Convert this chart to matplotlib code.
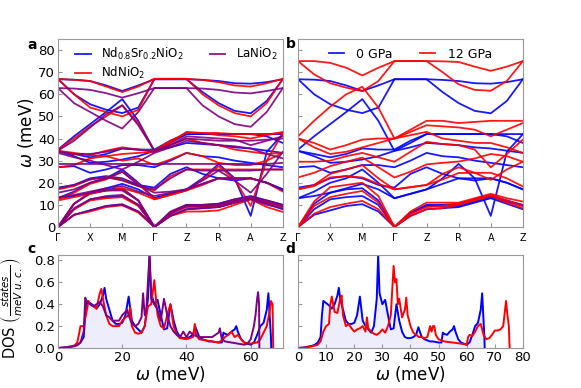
import numpy as np
import matplotlib.pyplot as plt

# k-path samples: Gamma, mid, X, mid, M, mid, Gamma, mid, Z, mid, R, mid, A, mid, Z
kpts = np.linspace(0, 7, 15)
klabels = ['Γ', 'X', 'M', 'Γ', 'Z', 'R', 'A', 'Z']

# Nd0.8Sr0.2NiO2 (also the 0 GPa curves)
bands_blue = [
    [0, 5.5, 7.5, 9.5, 10.3, 7, 0, 5, 8, 8.5, 9, 11, 13, 10.5, 8],
    [0, 8, 12.5, 13.5, 14, 10, 0, 6, 9.5, 9.5, 9.5, 11.5, 13.5, 11.5, 9.5],
    [0, 10.5, 15.5, 17, 17.5, 12, 0, 6.5, 10, 10, 10.5, 12.5, 14, 12, 10],
    [13, 14, 15.5, 17.5, 19.5, 17, 13, 15, 17, 19.5, 22, 22, 22, 20, 17],
    [13, 16, 20, 22, 26, 20, 13, 15, 17, 22, 28.5, 22, 5, 34, 42],
    [17.8, 19, 22, 23, 22, 19, 17.8, 24, 27, 24, 22, 21, 22, 20, 17],
    [27, 27.5, 24.5, 26, 28, 28, 27, 30, 33.5, 32, 31.5, 30, 29, 28, 27],
    [34.4, 32, 29, 29.5, 30.5, 32, 34.4, 36, 38, 37.5, 37, 36, 35.5, 34.5, 33.5],
    [34.4, 33, 31.5, 33, 35.5, 35, 35, 39, 42, 42, 42, 42, 42, 41, 38],
    [35, 41, 46.5, 52, 57.8, 48, 34.4, 38, 42, 42, 42, 42, 42, 42, 42],
    [66.8, 60, 55.5, 53, 51.5, 54, 66.8, 66.8, 66.8, 61, 56, 52.5, 51.4, 57, 66.8],
    [66.8, 66.6, 66, 64, 61.5, 64, 66.8, 66.8, 66.8, 66.5, 66, 65, 64.8, 65.5, 66.8],
]

# NdNiO2
bands_red_a = [
    [0, 5.5, 7, 9, 9.8, 6.5, 0, 5, 7, 7, 7.5, 10, 12.5, 9, 6.8],
    [0, 8, 12, 13, 13.5, 9.5, 0, 6, 9, 9, 9, 11, 13, 11, 9],
    [0, 10.5, 15, 16.5, 17, 12, 0, 6.5, 9.5, 9.5, 10, 12, 13.5, 11.5, 9.5],
    [12, 13.5, 15, 16.5, 17.5, 15.5, 12.5, 14.5, 16.5, 19, 22, 22, 22, 20, 16],
    [12.5, 15.5, 19.5, 21.5, 25, 19.5, 12.5, 14.5, 16.5, 21.5, 27.5, 21.5, 9.5, 30, 42.5],
    [17, 18.5, 21.5, 22.5, 21.5, 18.5, 16.5, 23, 26, 26, 26, 26, 26, 26, 26],
    [27, 28, 31, 32, 30, 31, 28, 30.5, 33.5, 32, 29, 28, 28, 30, 33.5],
    [34, 33, 32.5, 32, 33, 33.5, 34, 37, 40, 38, 37, 35, 34, 33, 33.5],
    [34.5, 33.5, 32.5, 34.5, 36, 35, 34.5, 39, 42.5, 42.5, 42.5, 42, 42, 42, 42.5],
    [35, 40, 45.5, 50, 55, 47, 34.5, 38, 43, 42.5, 41.5, 41, 40, 41.5, 43],
    [67, 60, 54, 52, 50, 53, 67, 67, 67, 60, 55, 51.5, 50, 56, 67],
    [67, 66.5, 66, 63.5, 61, 63.5, 67, 67, 67, 66.5, 65.5, 64, 63.5, 65, 67],
]

# LaNiO2
bands_purple = [
    [0, 5.5, 7.5, 9.5, 10, 7, 0, 5, 8, 8.5, 9, 11, 12.5, 10, 8.5],
    [0, 8.5, 12.5, 14, 14.5, 10, 0, 6, 9.5, 9.5, 10, 12, 13, 11, 9.5],
    [0, 10.5, 15.5, 16.5, 16.5, 12, 0, 7, 10, 10, 10.5, 12.5, 13.5, 12, 10],
    [13.5, 14.5, 16, 17.5, 18.5, 16, 14, 15.5, 17, 19.5, 22, 22, 22, 20, 16.5],
    [15.5, 17, 20, 22, 25, 19, 15.5, 16, 17, 21, 25.5, 21, 15.5, 24, 34],
    [17.5, 19, 21.5, 22.5, 21, 18.5, 17, 22, 26, 25.5, 25.5, 25.5, 25.5, 26, 26],
    [28.5, 28.5, 28.5, 28.5, 28.5, 28.5, 28.5, 28.5, 28.5, 28.5, 28.5, 28.5, 28.5, 28.5, 29],
    [33.5, 31.5, 30, 28, 26, 29.5, 33.5, 36, 39, 38, 37, 36.5, 35.5, 33, 31],
    [34, 33, 33, 34, 35.5, 35, 34, 37, 40, 39.5, 39, 39, 39, 39.5, 40],
    [34.5, 39, 45, 51, 55, 46, 34.5, 37, 41, 40.5, 40, 39.5, 37, 39, 41],
    [62.8, 56, 52, 48, 44.5, 52, 62.8, 62.8, 62.8, 55, 50, 46.5, 45.3, 52, 62.8],
    [62.8, 62.6, 62, 60.5, 58.5, 60.5, 62.8, 62.8, 62.8, 62.6, 62, 60.8, 60.4, 61.5, 62.8],
]

# 12 GPa
bands_red_b = [
    [0, 6, 9, 10.5, 11.8, 8, 0, 5, 8, 8.5, 10, 12, 14, 11, 8.5],
    [0, 9.5, 13.5, 15, 16.3, 11, 0, 6, 9, 9.5, 10.5, 12.5, 14.5, 12, 9.5],
    [0, 11.5, 18, 19, 20, 14, 0, 7, 11, 11, 11, 13, 15, 13, 11.5],
    [17, 18.5, 22.4, 23, 22.4, 19.5, 17, 18, 19, 21.5, 24.4, 24.5, 24.5, 22, 18.3],
    [17, 19, 24, 26, 28, 22, 17, 18, 19, 24, 27, 24.5, 21.3, 26, 29.5],
    [22.4, 24.5, 27.5, 29.5, 31.4, 27, 22.4, 25, 28.3, 29, 29.6, 31, 33, 32, 29.5],
    [29.5, 29.5, 30, 32, 33.5, 31.5, 29.5, 34, 38.5, 37.5, 37, 35, 27, 33, 39.5],
    [40, 36, 33, 34, 36, 38, 40, 41.5, 43, 40, 39, 38, 38, 36, 33.5],
    [40, 38, 35, 37, 39.5, 40, 40, 43, 46, 45.5, 45, 44, 41, 44, 47],
    [41, 48, 54.4, 60, 63.4, 54, 40, 44, 48, 48, 47, 47.5, 48, 48, 48],
    [75, 69, 65, 63, 61.4, 66, 75, 75, 75, 70, 64.5, 62, 61.6, 66, 75],
    [75, 75, 74.2, 72, 68.5, 72, 75, 75, 75, 74.9, 74.6, 72.5, 70.6, 72.5, 75],
]

# phonon DOS
e_blue = [0, 2, 4, 5, 6, 7, 8, 8.5, 9, 10, 11, 12, 13, 14, 14.5, 15, 16, 17, 18, 19,
          20, 21, 22, 23, 24, 25, 26, 27, 28, 28.5, 29, 30, 31, 32, 33, 34, 35, 36, 37,
          38, 39, 40, 41, 42, 42.8, 44, 45, 46, 47, 48, 49, 50, 51, 51.5, 52, 53, 54, 55,
          55.5, 56, 57, 58, 59, 60, 61, 62, 63, 64, 65, 65.5, 66, 66.3, 66.4]
dos_blue = [0, 0.005, 0.015, 0.02, 0.03, 0.05, 0.1, 0.3, 0.43, 0.41, 0.39, 0.36, 0.4, 0.48,
            0.55, 0.45, 0.35, 0.25, 0.22, 0.22, 0.23, 0.3, 0.47, 0.25, 0.2, 0.17, 0.14, 0.2,
            0.45, 0.85, 0.5, 0.4, 0.44, 0.3, 0.17, 0.18, 0.4, 0.25, 0.15, 0.1, 0.09, 0.09,
            0.1, 0.12, 0.19, 0.1, 0.08, 0.07, 0.06, 0.06, 0.055, 0.05, 0.05, 0.14, 0.13, 0.12,
            0.15, 0.17, 0.2, 0.15, 0.08, 0.05, 0.04, 0.03, 0.05, 0.12, 0.2, 0.23, 0.35, 0.5,
            0.25, 0.1, 0]

e_red_a = [0, 3, 5, 6, 6.5, 7, 8, 9, 9.5, 10, 11, 12, 13, 13.5, 14, 15, 16, 17, 18, 19,
           20, 21, 22, 22.5, 23, 24, 25, 26, 27, 28, 29, 30, 30.5, 31, 32, 33, 34, 35, 36,
           37, 38, 40, 42, 42.6, 43, 44, 46, 48, 50, 51, 52, 53, 54, 55, 56, 57, 58, 60,
           62, 63, 64, 65, 66, 66.3, 66.8, 67]
dos_red_a = [0, 0.005, 0.02, 0.05, 0.12, 0.2, 0.2, 0.35, 0.43, 0.4, 0.38, 0.36, 0.5, 0.54,
             0.45, 0.3, 0.22, 0.2, 0.2, 0.2, 0.25, 0.28, 0.3, 0.37, 0.2, 0.14, 0.13, 0.14,
             0.2, 0.38, 0.4, 0.62, 0.45, 0.3, 0.2, 0.18, 0.3, 0.4, 0.2, 0.12, 0.09, 0.08,
             0.1, 0.22, 0.12, 0.08, 0.07, 0.06, 0.05, 0.07, 0.1, 0.12, 0.15, 0.1, 0.12, 0.08,
             0.05, 0.04, 0.05, 0.08, 0.14, 0.2, 0.35, 0.43, 0.4, 0]

e_purple = [0, 3, 5, 6, 7, 8, 8.5, 9, 10, 11, 12, 13, 14, 15, 16, 17, 18, 19, 20, 21, 21.5,
            22, 23, 24, 25, 26, 26.5, 27, 27.5, 28, 28.5, 29, 30, 31, 32, 33, 34, 35, 36,
            37, 38, 39, 40, 41, 42, 43, 44, 45, 46, 47, 48, 49, 50, 50.4, 51, 52, 54, 56,
            58, 59, 60, 61, 61.5, 62, 62.3, 62.6, 62.7]
dos_purple = [0, 0.005, 0.015, 0.025, 0.05, 0.15, 0.46, 0.42, 0.4, 0.38, 0.4, 0.42, 0.38,
              0.3, 0.28, 0.25, 0.25, 0.25, 0.3, 0.33, 0.35, 0.3, 0.22, 0.2, 0.22, 0.28, 0.5,
              0.3, 0.35, 0.6, 0.85, 0.45, 0.4, 0.35, 0.25, 0.45, 0.3, 0.2, 0.15, 0.12, 0.1,
              0.15, 0.1, 0.15, 0.12, 0.11, 0.1, 0.1, 0.1, 0.1, 0.1, 0.12, 0.14, 0.18, 0.08,
              0.06, 0.05, 0.04, 0.03, 0.04, 0.08, 0.2, 0.3, 0.45, 0.51, 0.4, 0]

e_red_b = [0, 3, 5, 7, 8, 9, 10, 11, 11.5, 12, 12.5, 13, 14, 15, 15.5, 16, 17, 18, 19, 20,
           21, 22, 23, 24, 24.5, 25, 26, 27, 28, 29, 30, 31, 32, 33, 34, 34.5, 35, 35.5, 36,
           37, 38, 38.5, 39, 40, 41, 42, 43, 44, 45, 46, 47, 47.5, 48, 48.5, 49, 50, 52, 55,
           58, 60, 60.5, 61, 62, 63, 64, 65, 66, 67, 68, 69, 70, 71, 72, 73, 74, 74.5, 75,
           75.2, 75.3]
dos_red_b = [0, 0.005, 0.015, 0.03, 0.06, 0.15, 0.2, 0.22, 0.4, 0.47, 0.4, 0.33, 0.32, 0.45,
             0.48, 0.3, 0.2, 0.22, 0.18, 0.15, 0.17, 0.18, 0.2, 0.15, 0.28, 0.18, 0.15, 0.13,
             0.12, 0.14, 0.17, 0.14, 0.2, 0.3, 0.75, 0.6, 0.63, 0.4, 0.45, 0.28, 0.35, 0.46,
             0.3, 0.2, 0.14, 0.12, 0.1, 0.1, 0.09, 0.1, 0.2, 0.15, 0.2, 0.2, 0.12, 0.08, 0.06,
             0.05, 0.04, 0.03, 0.1, 0.12, 0.11, 0.15, 0.2, 0.22, 0.12, 0.08, 0.09, 0.12, 0.16,
             0.16, 0.17, 0.2, 0.43, 0.3, 0.2, 0.05, 0]

BLUE, RED, PURPLE = '#0000ff', '#ff0000', '#800080'
plt.rcParams['font.family'] = 'DejaVu Sans'

fig = plt.figure(figsize=(5.81, 3.88), dpi=100)
ax_a = fig.add_axes([0.0998, 0.415, 0.387, 0.4845])
ax_b = fig.add_axes([0.513, 0.415, 0.387, 0.4845])
ax_c = fig.add_axes([0.0998, 0.1031, 0.387, 0.2397])
ax_d = fig.add_axes([0.513, 0.1031, 0.387, 0.2397])


def draw_bands(ax, bands, color, label):
    for i, b in enumerate(bands):
        ax.plot(kpts, b, color=color, lw=1.3, alpha=0.9, label=label if i == 0 else None)


draw_bands(ax_a, bands_blue, BLUE, r'Nd$_{0.8}$Sr$_{0.2}$NiO$_2$')
draw_bands(ax_a, bands_red_a, RED, r'NdNiO$_2$')
draw_bands(ax_a, bands_purple, PURPLE, r'LaNiO$_2$')
draw_bands(ax_b, bands_blue, BLUE, '0 GPa')
draw_bands(ax_b, bands_red_b, RED, '12 GPa')

for ax in (ax_a, ax_b):
    ax.set_xlim(0, 7)
    ax.set_ylim(0, 85)
    ax.set_xticks(range(8))
    ax.set_xticklabels(klabels, fontsize=7)
    ax.set_yticks(range(0, 81, 10))

ax_a.set_ylabel(r'$\omega$ (meV)', fontsize=12, labelpad=2)
ax_b.set_yticklabels([])
ax_a.legend(ncol=2, loc='upper left', frameon=False, fontsize=8.5, handlelength=1.3,
            columnspacing=2.2, borderaxespad=0.2, handletextpad=0.9, labelspacing=0.25,
            bbox_to_anchor=(0.045, 1.0))
ax_b.legend(ncol=2, loc='upper center', frameon=False, fontsize=9, handlelength=1.2,
            columnspacing=2.2, borderaxespad=0.3, handletextpad=1.0,
            bbox_to_anchor=(0.5, 1.0))

ax_c.fill_between(e_blue, dos_blue, color='#e6e6fa', alpha=0.7, lw=0)
ax_c.plot(e_blue, dos_blue, color=BLUE, lw=1.4)
ax_c.plot(e_red_a, dos_red_a, color=RED, lw=1.4)
ax_c.plot(e_purple, dos_purple, color=PURPLE, lw=1.4)
ax_c.set_xlim(0, 70)
ax_c.set_xticks([0, 20, 40, 60])

ax_d.fill_between(e_blue, dos_blue, color='#e6e6fa', alpha=0.7, lw=0)
ax_d.plot(e_blue, dos_blue, color=BLUE, lw=1.4)
ax_d.plot(e_red_b, dos_red_b, color=RED, lw=1.4)
ax_d.set_xlim(0, 80)
ax_d.set_xticks(range(0, 81, 10))
ax_d.set_yticklabels([])

for ax in (ax_c, ax_d):
    ax.set_ylim(0, 0.85)
    ax.set_yticks([0, 0.2, 0.4, 0.6, 0.8])
    ax.set_xlabel(r'$\omega$ (meV)', fontsize=12, labelpad=0)
ax_c.set_yticklabels(['0.0', '0.2', '0.4', '0.6', '0.8'])
ax_c.set_ylabel(r'DOS $\left(\frac{states}{meV\ u.c.}\right)$', fontsize=10.5)
ax_c.yaxis.set_label_coords(-0.145, 0.43)

for ax in (ax_a, ax_b, ax_c, ax_d):
    for s in ax.spines.values():
        s.set_color('#999999')
    ax.tick_params(direction='in', length=3, color='#999999', labelsize=9.5, pad=2)
ax_a.tick_params(axis='x', labelsize=7, pad=4)
ax_b.tick_params(axis='x', labelsize=7, pad=4)

fig.text(27 / 581, 1 - 45 / 388, 'a', fontweight='bold', fontsize=10, ha='left', va='center')
fig.text(286 / 581, 1 - 44 / 388, 'b', fontweight='bold', fontsize=10, ha='left', va='center')
fig.text(27 / 581, 1 - 249 / 388, 'c', fontweight='bold', fontsize=10, ha='left', va='center')
fig.text(285 / 581, 1 - 249 / 388, 'd', fontweight='bold', fontsize=10, ha='left', va='center')

fig.savefig('out.png', dpi=100)
